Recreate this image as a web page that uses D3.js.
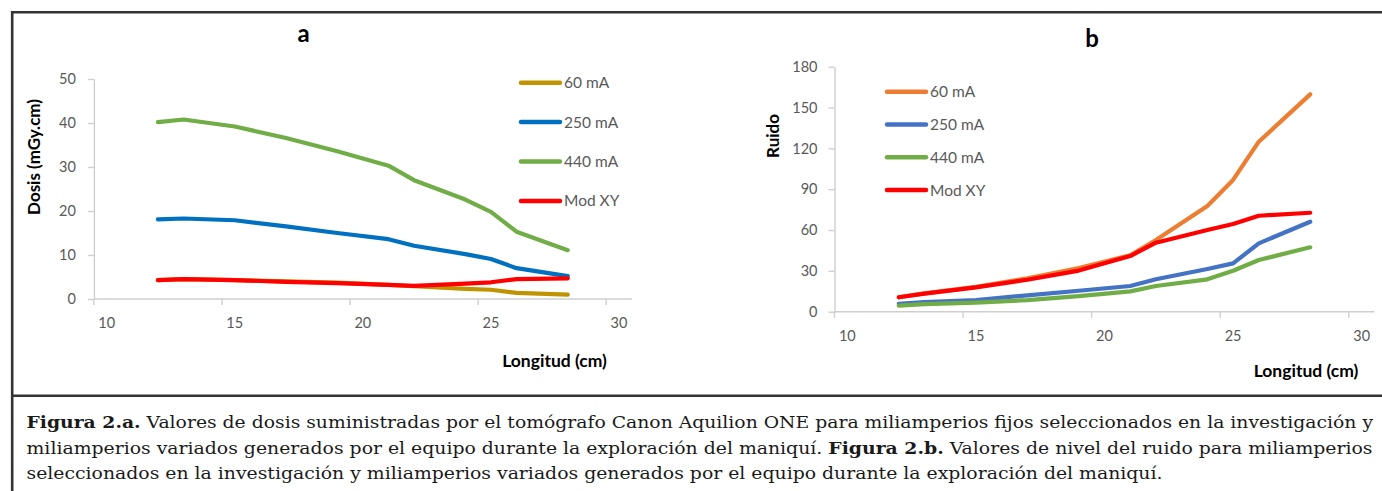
<!DOCTYPE html>
<html>
<head>
<meta charset="utf-8">
<script src="https://cdn.jsdelivr.net/npm/d3@7/dist/d3.min.js"></script>
<style>
  html, body { margin: 0; padding: 0; background: #fff; }
  svg { display: block; }
</style>
</head>
<body>
<svg id="chart" width="1382" height="491"></svg>
<script>
// ---------------- DATA ----------------
const longitudes = [12, 13, 15, 17, 19, 21, 22, 24, 25, 26, 28];

// Figure a: Dosis (mGy.cm)
const dose60mA  = [4.3, 4.5, 4.3, 4.0, 3.7, 3.2, 2.9, 2.3, 2.1, 1.4, 1.0];
const dose250mA = [18.1, 18.3, 17.9, 16.5, 15.0, 13.6, 12.1, 10.2, 9.1, 7.0, 5.2];
const dose440mA = [40.2, 40.8, 39.2, 36.6, 33.6, 30.3, 27.0, 22.6, 19.8, 15.3, 11.1];
const doseModXY = [4.3, 4.5, 4.3, 3.9, 3.6, 3.2, 3.0, 3.5, 3.8, 4.5, 4.7];

// Figure b: Ruido
const noise60mA  = [10.6, 13.5, 18.2, 24.5, 32.0, 41.5, 52.7, 77.7, 96.8, 124.9, 159.7];
const noise250mA = [5.7, 7.0, 8.5, 12.0, 15.4, 18.9, 23.8, 31.4, 35.5, 50.2, 66.1];
const noise440mA = [4.4, 5.5, 6.6, 8.5, 11.5, 14.9, 18.9, 23.8, 30.1, 38.0, 47.3];
const noiseModXY = [10.6, 13.3, 17.9, 23.5, 30.2, 40.9, 50.7, 60.0, 64.4, 70.5, 72.7];

const seriesNames = ["60 mA", "250 mA", "440 mA", "Mod XY"];
const xTicks = [10, 15, 20, 25, 30];
const yTicksA = [0, 10, 20, 30, 40, 50];
const yTicksB = [0, 30, 60, 90, 120, 150, 180];

const captionLine1 = [["Figura 2.a.", true], [" Valores de dosis suministradas por el tomógrafo Canon Aquilion ONE para miliamperios fijos seleccionados en la investigación y", false]];
const captionLine2 = [["miliamperios variados generados por el equipo durante la exploración del maniquí. ", false], ["Figura 2.b.", true], [" Valores de nivel del ruido para miliamperios", false]];
const captionLine3 = [["seleccionados en la investigación y miliamperios variados generados por el equipo durante la exploración del maniquí.", false]];

// ---------------- DRAW ----------------
const svg = d3.select("#chart");
const FONT = "Lato, 'Open Sans', sans-serif";

function drawPanel(cfg) {
  const x = d3.scaleLinear().domain([9.5, 30.5]).range(cfg.xRange);
  const y = d3.scaleLinear().domain(cfg.yDomain).range(cfg.yRange);
  const g = svg.append("g");

  // y axis
  const yAx = g.append("g")
    .attr("transform", `translate(${x(9.5)},0)`)
    .call(d3.axisLeft(y).tickValues(cfg.yTicks).tickSize(6).tickSizeOuter(0).tickPadding(cfg.yPad));
  yAx.select(".domain").attr("stroke", "#cfcfcf").attr("stroke-width", 1.4);
  yAx.selectAll(".tick line").attr("stroke", "#cfcfcf").attr("stroke-width", 1.4);
  yAx.selectAll("text").attr("font-family", FONT).attr("font-size", 14.5).attr("fill", "#595959");

  // x axis: line and tick marks (ticks sit half a unit left of labels)
  g.append("line")
    .attr("x1", x(9.5)).attr("x2", x(30.5))
    .attr("y1", y(0)).attr("y2", y(0))
    .attr("stroke", "#cfcfcf").attr("stroke-width", 1.4);
  g.selectAll(".xtick").data(xTicks).enter().append("line")
    .attr("x1", d => x(d - 0.5)).attr("x2", d => x(d - 0.5))
    .attr("y1", y(0)).attr("y2", y(0) + 6)
    .attr("stroke", "#cfcfcf").attr("stroke-width", 1.4);
  g.selectAll(".xlab").data(xTicks).enter().append("text")
    .attr("x", d => x(d)).attr("y", y(0) + 29)
    .attr("text-anchor", "middle")
    .attr("font-family", FONT).attr("font-size", 14.5).attr("fill", "#595959")
    .text(d => d);

  // lines
  const line = d3.line().x(d => x(d[0])).y(d => y(d[1]));
  cfg.series.forEach((s, i) => {
    g.append("path")
      .datum(longitudes.map((L, j) => [L, s[j]]))
      .attr("d", line)
      .attr("fill", "none")
      .attr("stroke", cfg.colors[i])
      .attr("stroke-width", 4.2)
      .attr("stroke-linejoin", "round")
      .attr("stroke-linecap", "round");
  });

  // legend
  seriesNames.forEach((name, i) => {
    const ly = cfg.legY + i * cfg.legStep;
    g.append("line")
      .attr("x1", cfg.legX).attr("x2", cfg.legX + 39)
      .attr("y1", ly).attr("y2", ly)
      .attr("stroke", cfg.colors[i]).attr("stroke-width", 4.5).attr("stroke-linecap", "round");
    g.append("text")
      .attr("x", cfg.legX + 43).attr("y", ly + 5.5)
      .attr("font-family", FONT).attr("font-size", 15.5).attr("fill", "#595959")
      .text(name);
  });

  // title
  g.append("text")
    .attr("x", cfg.titleX).attr("y", cfg.titleY)
    .attr("text-anchor", "middle")
    .attr("font-family", FONT).attr("font-weight", "bold").attr("font-size", 24).attr("fill", "#000")
    .text(cfg.title);

  // axis titles
  g.append("text")
    .attr("transform", `translate(${cfg.yTitleX},${cfg.yTitleY}) rotate(-90)`)
    .attr("text-anchor", "middle")
    .attr("font-family", FONT).attr("font-weight", "bold").attr("font-size", 17).attr("fill", "#000")
    .text(cfg.yTitle);
  g.append("text")
    .attr("x", cfg.xTitleX).attr("y", cfg.xTitleY)
    .attr("text-anchor", "middle")
    .attr("font-family", FONT).attr("font-weight", "bold").attr("font-size", 17.5).attr("fill", "#000")
    .text("Longitud (cm)");
}

drawPanel({
  xRange: [93.9, 631.8], yDomain: [0, 50], yRange: [299, 79], yTicks: yTicksA, yPad: 12,
  series: [dose60mA, dose250mA, dose440mA, doseModXY],
  colors: ["#C09300", "#0070C0", "#70AD47", "#FF0000"],
  legX: 521, legY: 82.7, legStep: 39.4,
  title: "a", titleX: 303.5, titleY: 42,
  yTitle: "Dosis (mGy.cm)", yTitleX: 39.5, yTitleY: 157,
  xTitleX: 554.5, xTitleY: 367
});

drawPanel({
  xRange: [834.5, 1374.5], yDomain: [0, 180], yRange: [311.7, 66.7], yTicks: yTicksB, yPad: 11,
  series: [noise60mA, noise250mA, noise440mA, noiseModXY],
  colors: ["#ED7D31", "#4472C4", "#70AD47", "#FF0000"],
  legX: 887, legY: 91.7, legStep: 32.8,
  title: "b", titleX: 1092, titleY: 47,
  yTitle: "Ruido", yTitleX: 779, yTitleY: 136,
  xTitleX: 1306, xTitleY: 377
});

// frame
const frame = svg.append("g").attr("stroke", "#333").attr("stroke-width", 2.6);
frame.append("line").attr("x1", 11).attr("x2", 1382).attr("y1", 12.2).attr("y2", 12.2);
frame.append("line").attr("x1", 12.2).attr("x2", 12.2).attr("y1", 11).attr("y2", 491);
frame.append("line").attr("x1", 11).attr("x2", 1382).attr("y1", 395.8).attr("y2", 395.8);

// caption
function captionLine(parts, yBase, len) {
  const t = svg.append("text")
    .attr("x", 26.5).attr("y", yBase)
    .attr("font-family", "'DejaVu Serif', 'Liberation Serif', serif")
    .attr("font-size", 16).attr("fill", "#1a1a1a")
    .attr("textLength", len).attr("lengthAdjust", "spacingAndGlyphs")
    .attr("xml:space", "preserve")
    .style("white-space", "pre");
  parts.forEach(([s, b]) => {
    t.append("tspan").attr("font-weight", b ? "bold" : "normal").text(s);
  });
}
captionLine(captionLine1, 428, 1346.5);
captionLine(captionLine2, 453.5, 1346);
captionLine(captionLine3, 479, 1136);
</script>
</body>
</html>
